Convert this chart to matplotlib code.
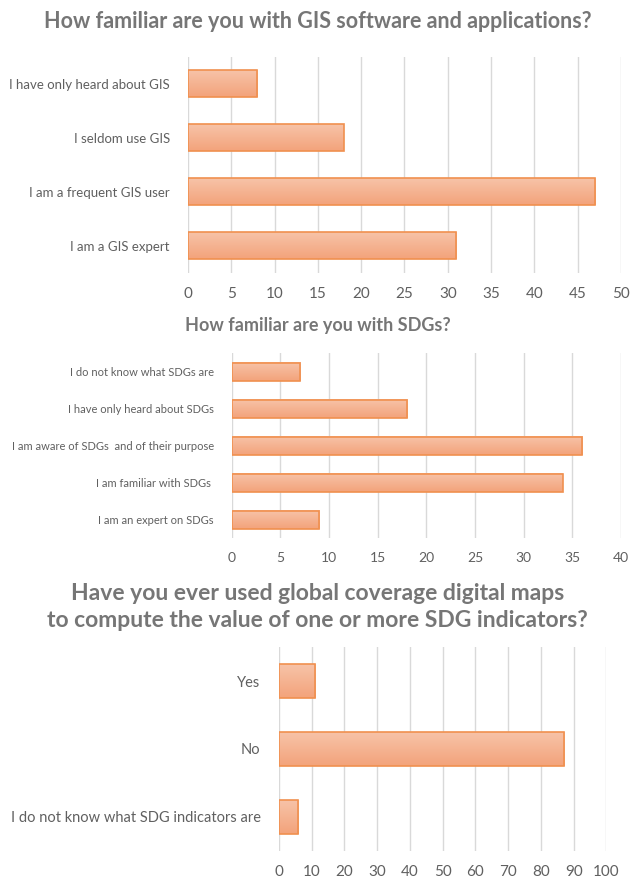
import numpy as np
import matplotlib
matplotlib.use("Agg")
import matplotlib.pyplot as plt

plt.rcParams['font.family'] = ['Lato', 'DejaVu Sans']

# data
gis_labels = ["I have only heard about GIS", "I seldom use GIS",
              "I am a frequent GIS user", "I am a GIS expert"]
gis_values = [8, 18, 47, 31]

sdg_labels = ["I do not know what SDGs are", "I have only heard about SDGs",
              "I am aware of SDGs  and of their purpose", "I am familiar with SDGs ",
              "I am an expert on SDGs"]
sdg_values = [7, 18, 36, 34, 9]

maps_labels = ["Yes", "No", "I do not know what SDG indicators are"]
maps_values = [11, 87, 6]

TEXT = "#606060"
TITLE = "#767676"
GRID = "#d9d9d9"
EDGE = "#f0904f"
grad = np.linspace(0, 1, 64).reshape(-1, 1)
cmap = matplotlib.colors.LinearSegmentedColormap.from_list("bar", ["#f7c3a8", "#f3a37b"])


def draw_chart(ax, labels, values, xmax, step, lab_size, tick_size):
    y = np.arange(len(labels))
    bars = ax.barh(y, values, height=0.5, color="none", edgecolor=EDGE,
                   linewidth=1.2, zorder=3)
    # gradient fill inside each bar
    for b in bars:
        x0, y0 = b.get_x(), b.get_y()
        w, h = b.get_width(), b.get_height()
        ax.imshow(grad, cmap=cmap, aspect="auto", zorder=2,
                  extent=(x0, x0 + w, y0 + h, y0), origin="upper")
    ax.set_xlim(0, xmax)
    ax.set_ylim(len(labels) - 0.5, -0.5)
    ax.set_xticks(np.arange(0, xmax + step, step))
    ax.set_yticks(y)
    ax.set_yticklabels(labels)
    ax.grid(axis="x", color=GRID, linewidth=1, zorder=0)
    for s in ax.spines.values():
        s.set_visible(False)
    ax.tick_params(length=0, colors=TEXT)
    ax.tick_params(axis="y", labelsize=lab_size, pad=13)
    ax.tick_params(axis="x", labelsize=tick_size, pad=10)


fig = plt.figure(figsize=(6.35, 8.77), dpi=100)

ax1 = fig.add_axes([0.296, 0.689, 0.682, 0.246])
draw_chart(ax1, gis_labels, gis_values, 50, 5, 9.5, 11)
fig.text(0.5, 1 - 22 / 877, "How familiar are you with GIS software and applications?",
         ha="center", va="center", fontsize=15.5, fontweight="bold", color=TITLE)

ax2 = fig.add_axes([0.365, 0.386, 0.613, 0.211])
draw_chart(ax2, sdg_labels, sdg_values, 40, 5, 8, 10)
fig.text(0.5, 1 - 326 / 877, "How familiar are you with SDGs?",
         ha="center", va="center", fontsize=13, fontweight="bold", color=TITLE)

ax3 = fig.add_axes([0.439, 0.030, 0.516, 0.232])
draw_chart(ax3, maps_labels, maps_values, 100, 10, 10.5, 11)
fig.text(0.5, 1 - 607 / 877,
         "Have you ever used global coverage digital maps\nto compute the value of one or more SDG indicators?",
         ha="center", va="center", fontsize=16.5, fontweight="bold", color=TITLE,
         linespacing=1.4)

fig.savefig("out.png", dpi=100)
